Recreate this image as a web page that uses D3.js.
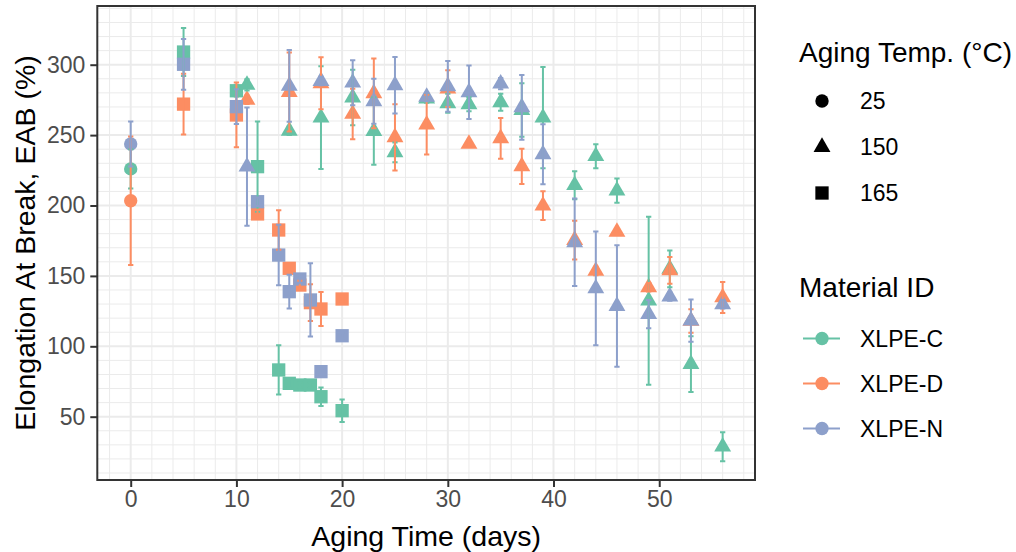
<!DOCTYPE html>
<html><head><meta charset="utf-8">
<script src="https://cdn.jsdelivr.net/npm/d3@7"></script>
<style>body{margin:0;background:#fff}text{font-family:"Liberation Sans",Arial,sans-serif}</style>
</head><body><svg id="c" width="1016" height="552"></svg>
<script>
const materials = ["XLPE-C", "XLPE-D", "XLPE-N"];
const matColors = ["#66c2a5", "#fc8d62", "#8da0cb"];
const tempLevels = [25, 150, 165];
const xTicks = [0, 10, 20, 30, 40, 50];
const yTicks = [50, 100, 150, 200, 250, 300];

// shared sampling days and aging temperatures (same design for every material)
const days  = [0, 5, 10, 12, 14, 15, 16, 17, 18, 20, 11, 15, 18, 21, 23, 25, 28, 30, 32, 35, 37, 39, 42, 44, 46, 49, 51, 53, 56];
const temps = [25, 165, 165, 165, 165, 165, 165, 165, 165, 165, 150, 150, 150, 150, 150, 150, 150, 150, 150, 150, 150, 150, 150, 150, 150, 150, 150, 150, 150];

// XLPE-C
const eabC = [226, 309, 281.5, 227.6, 83.2, 73.7, 72.5, 72.5, 64.2, 54.3, 285.6, 253, 262.4, 276.7, 252.9, 237.8, 276, 272.6, 271.9, 273.3, 267.8, 262.4, 214.4, 235, 210.5, 132.4, 155, 87.4, 28.7];
const errC = [14, 17, 4, 32, 17.5, 3, 2, 2, 6.6, 8, 4, 3, 36.5, 19.7, 24, 7, 3, 6.7, 5, 6, 19, 36, 10, 8.5, 8.6, 59.7, 13, 19.8, 10.3];
// XLPE-D
const eabD = [203.4, 272, 264.3, 194, 182.6, 155.4, 143.5, 131, 126.5, 133.6, 275.1, 280.6, 286.8, 265, 279.7, 248.4, 257.4, 283, 243.7, 247.7, 227.8, 199.9, 175.4, 153.5, 181.2, 141.9, 154, 118, 134.7];
const errD = [45.6, 21.5, 23, 3, 14, 3, 3, 13, 12, 2, 3, 28, 18.5, 18, 24.8, 23.5, 21.2, 13, 2, 14.5, 12.5, 10.2, 13.8, 3, 2, 3, 9.5, 8.3, 11];
// XLPE-N
const eabN = [243.7, 300.3, 270.2, 202.7, 164.8, 138.8, 147.8, 132.9, 82, 107.5, 227.6, 284.9, 288.4, 287.2, 274, 285.4, 277.1, 284.6, 280.4, 286.5, 269.7, 236.4, 173.9, 141.1, 128.6, 122.9, 135.3, 118.2, 129.8];
const errN = [16, 18, 12.3, 3, 21.5, 12, 3, 26, 2, 2, 42, 25.5, 3, 16, 16, 20, 3, 18, 19, 4, 23, 21.3, 31, 40.4, 43.2, 10, 3, 15, 3];

const eabAll = [eabC, eabD, eabN];
const errAll = [errC, errD, errN];

const rows = [];
materials.forEach((m, mi) => {
  days.forEach((d, i) => rows.push({mat: m, mi, day: d, temp: temps[i], eab: eabAll[mi][i], err: errAll[mi][i]}));
});

const svg = d3.select("#c");
const panel = {l: 97.3, r: 755, t: 6, b: 480};
const x = d3.scaleLinear().domain([-3.16, 59.06]).range([panel.l, panel.r]);
const y = d3.scaleLinear().domain([5.04, 341.7]).range([panel.b, panel.t]);
const color = d3.scaleOrdinal().domain(materials).range(matColors);

const shapeOf = d3.scaleOrdinal().domain(tempLevels).range([d3.symbolCircle, d3.symbolTriangle, d3.symbolSquare]);
const sizeOf = d3.scaleOrdinal().domain(tempLevels).range([140, 124, 177]);

svg.append("rect").attr("x", 0).attr("y", 0).attr("width", 1016).attr("height", 552).attr("fill", "#fff");

// grid
const g = svg.append("g");
const minorX = d3.range(-2, 59, 2).filter(v => v % 10 !== 0);
const minorY = d3.range(10, 342, 10).filter(v => v % 50 !== 0);
g.selectAll(".mx").data(minorX).join("line")
  .attr("x1", d => x(d)).attr("x2", d => x(d)).attr("y1", panel.t).attr("y2", panel.b)
  .attr("stroke", "#ebebeb").attr("stroke-width", 1);
g.selectAll(".my").data(minorY).join("line")
  .attr("y1", d => y(d)).attr("y2", d => y(d)).attr("x1", panel.l).attr("x2", panel.r)
  .attr("stroke", "#ebebeb").attr("stroke-width", 1);
g.selectAll(".Mx").data(xTicks).join("line")
  .attr("x1", d => x(d)).attr("x2", d => x(d)).attr("y1", panel.t).attr("y2", panel.b)
  .attr("stroke", "#ebebeb").attr("stroke-width", 2);
g.selectAll(".My").data(yTicks).join("line")
  .attr("y1", d => y(d)).attr("y2", d => y(d)).attr("x1", panel.l).attr("x2", panel.r)
  .attr("stroke", "#ebebeb").attr("stroke-width", 2);

// points
const pts = svg.append("g");
pts.selectAll("path").data(rows).join("path")
  .attr("transform", d => `translate(${x(d.day)},${y(d.eab)})`)
  .attr("d", d => d3.symbol().type(shapeOf(d.temp)).size(sizeOf(d.temp))())
  .attr("fill", d => color(d.mat));

// error bars
const capHalf = 0.25;
const eb = svg.append("g").attr("stroke-width", 2);
eb.selectAll("path").data(rows).join("path")
  .attr("fill", "none")
  .attr("stroke", d => color(d.mat))
  .attr("d", d => {
    const xc = x(d.day), xl = x(d.day - capHalf), xr = x(d.day + capHalf);
    const yt = y(d.eab + d.err), yb = y(d.eab - d.err);
    return `M${xl},${yt}H${xr}M${xc},${yt}V${yb}M${xl},${yb}H${xr}`;
  });

// border
svg.append("rect").attr("x", panel.l).attr("y", panel.t).attr("width", panel.r - panel.l).attr("height", panel.b - panel.t)
  .attr("fill", "none").attr("stroke", "#333333").attr("stroke-width", 2);

// axes
const xAxis = svg.append("g").attr("transform", `translate(0,${panel.b})`)
  .call(d3.axisBottom(x).tickValues(xTicks).tickSize(7).tickPadding(4));
const yAxis = svg.append("g").attr("transform", `translate(${panel.l},0)`)
  .call(d3.axisLeft(y).tickValues(yTicks).tickSize(7).tickPadding(5));
[xAxis, yAxis].forEach(a => {
  a.select(".domain").remove();
  a.selectAll(".tick line").attr("stroke", "#333333").attr("stroke-width", 2);
  a.selectAll(".tick text").attr("fill", "#4d4d4d").style("font-size", "23px").style("font-family", '"Liberation Sans",Arial,sans-serif');
});

svg.append("text").attr("x", (panel.l + panel.r) / 2).attr("y", 546).attr("text-anchor", "middle")
  .style("font-size", "28.5px").text("Aging Time (days)");
svg.append("text").attr("transform", `translate(35,${(panel.t + panel.b) / 2}) rotate(-90)`).attr("text-anchor", "middle")
  .style("font-size", "28.5px").text("Elongation At Break, EAB (%)");

// legends
const leg1 = svg.append("g");
leg1.append("text").attr("x", 799).attr("y", 61.5).style("font-size", "28px").text("Aging Temp. (°C)");
const tempKeyY = [101, 147, 193];
tempLevels.forEach((t, i) => {
  leg1.append("path").attr("transform", `translate(822,${tempKeyY[i]})`)
    .attr("d", d3.symbol().type(shapeOf(t)).size(sizeOf(t))()).attr("fill", "#000");
  leg1.append("text").attr("x", 860).attr("y", tempKeyY[i]).attr("dy", "0.35em").style("font-size", "23px").text(t);
});
const leg2 = svg.append("g");
leg2.append("text").attr("x", 799).attr("y", 296.5).style("font-size", "28px").text("Material ID");
const matKeyY = [338.5, 383.5, 428.5];
materials.forEach((m, i) => {
  leg2.append("line").attr("x1", 803).attr("x2", 840).attr("y1", matKeyY[i]).attr("y2", matKeyY[i])
    .attr("stroke", matColors[i]).attr("stroke-width", 2);
  leg2.append("path").attr("transform", `translate(822,${matKeyY[i]})`)
    .attr("d", d3.symbol().type(d3.symbolCircle).size(140)()).attr("fill", matColors[i]);
  leg2.append("text").attr("x", 860).attr("y", matKeyY[i]).attr("dy", "0.35em").style("font-size", "23px").text(m);
});
</script>
</body></html>
